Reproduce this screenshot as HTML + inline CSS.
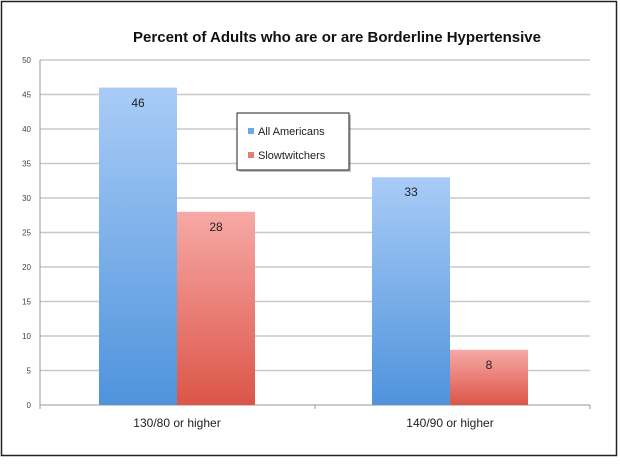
<!DOCTYPE html>
<html><head><style>
body{margin:0;background:#fff;}
</style></head><body>
<svg width="620" height="465" xmlns="http://www.w3.org/2000/svg" font-family="Liberation Sans, sans-serif">
<defs>
<linearGradient id="b" x1="0" y1="0" x2="0" y2="1"><stop offset="0" stop-color="#a9ccf7"/><stop offset="1" stop-color="#4f93dc"/></linearGradient>
<linearGradient id="r" x1="0" y1="0" x2="0" y2="1"><stop offset="0" stop-color="#f7a9a6"/><stop offset="1" stop-color="#dc5548"/></linearGradient>
</defs>
<rect x="1.5" y="1.5" width="615" height="454" fill="#fff" stroke="#222" stroke-width="1.5"/>
<text x="337" y="42" font-size="15" font-weight="bold" text-anchor="middle" fill="#111">Percent of Adults who are or are Borderline Hypertensive</text>
<g stroke="#c8c8c8" stroke-width="1.5">
<line x1="40" y1="60" x2="590" y2="60"/><line x1="40" y1="94.5" x2="590" y2="94.5"/><line x1="40" y1="129" x2="590" y2="129"/><line x1="40" y1="163.5" x2="590" y2="163.5"/><line x1="40" y1="198" x2="590" y2="198"/><line x1="40" y1="232.5" x2="590" y2="232.5"/><line x1="40" y1="267" x2="590" y2="267"/><line x1="40" y1="301.5" x2="590" y2="301.5"/><line x1="40" y1="336" x2="590" y2="336"/><line x1="40" y1="370.5" x2="590" y2="370.5"/>
</g>
<g stroke="#999" stroke-width="1">
<line x1="40" y1="60" x2="40" y2="405"/><line x1="40" y1="405" x2="590" y2="405"/>
<line x1="315" y1="405" x2="315" y2="409"/><line x1="590" y1="405" x2="590" y2="409"/><line x1="40" y1="405" x2="40" y2="409"/>
</g>
<g font-size="8" fill="#444" text-anchor="end">
<text x="31" y="63">50</text><text x="31" y="97.5">45</text><text x="31" y="132">40</text><text x="31" y="166.5">35</text><text x="31" y="201">30</text><text x="31" y="235.5">25</text><text x="31" y="270">20</text><text x="31" y="304.5">15</text><text x="31" y="339">10</text><text x="31" y="373.5">5</text><text x="31" y="408">0</text>
</g>
<rect x="99" y="87.6" width="78" height="317.4" fill="url(#b)"/>
<rect x="177" y="211.8" width="78" height="193.2" fill="url(#r)"/>
<rect x="372" y="177.3" width="78" height="227.7" fill="url(#b)"/>
<rect x="450" y="349.8" width="78" height="55.2" fill="url(#r)"/>
<g font-size="12" fill="#222" text-anchor="middle">
<text x="138" y="107">46</text><text x="216" y="231">28</text><text x="411" y="196">33</text><text x="489" y="369">8</text>
<text x="177" y="427">130/80 or higher</text><text x="450" y="427">140/90 or higher</text>
</g>
<rect x="239" y="115" width="112" height="57" fill="#888" opacity="0.5"/>
<rect x="237" y="113" width="112" height="57" fill="#fff" stroke="#222" stroke-width="1"/>
<rect x="248" y="128" width="6" height="6" fill="#6fa6e6"/>
<rect x="248" y="152" width="6" height="6" fill="#e87c75"/>
<g font-size="11" fill="#222"><text x="258" y="135">All Americans</text><text x="258" y="159">Slowtwitchers</text></g>
</svg>
</body></html>
